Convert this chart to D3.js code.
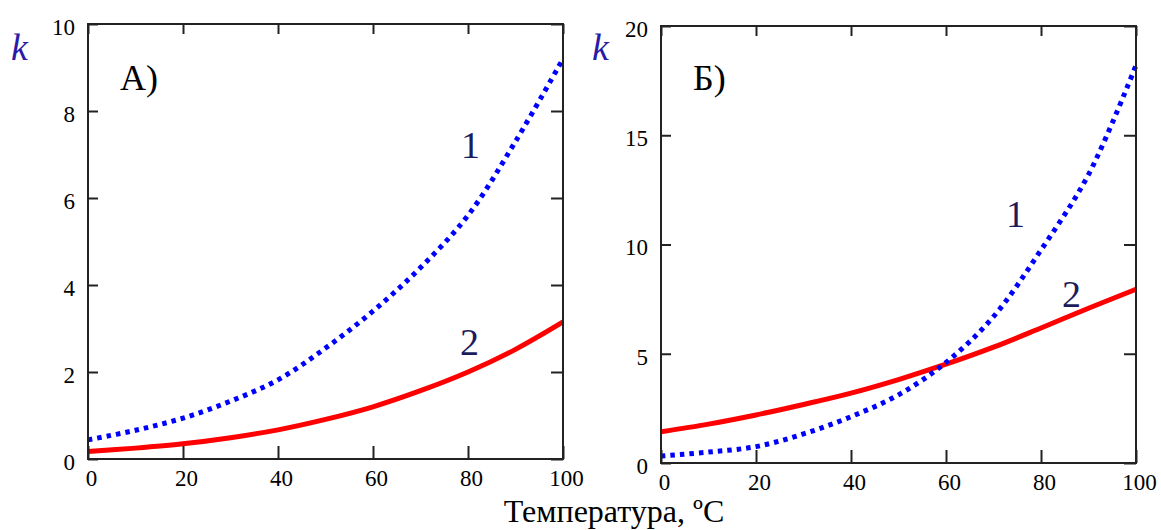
<!DOCTYPE html>
<html>
<head>
<meta charset="utf-8">
<script src="https://cdn.jsdelivr.net/npm/d3@7"></script>
<style>
  html, body { margin: 0; padding: 0; background: #fff; }
  svg { display: block; }
  text { font-family: "Liberation Serif", "Times New Roman", serif; }
</style>
</head>
<body>
<svg id="chart" width="1161" height="530"></svg>
<script>
// ---- data ----
const temps = [0, 10, 20, 30, 40, 50, 60, 70, 80, 90, 100];
// Panel A
const kA1 = [0.44, 0.66, 0.94, 1.33, 1.82, 2.55, 3.40, 4.40, 5.60, 7.30, 9.20];
const kA2 = [0.17, 0.25, 0.35, 0.49, 0.67, 0.91, 1.20, 1.57, 2.00, 2.52, 3.15];
// Panel Б
const kB1 = [0.32, 0.50, 0.75, 1.33, 2.12, 3.12, 4.60, 6.70, 9.75, 13.20, 18.20];
const kB2 = [1.43, 1.78, 2.20, 2.68, 3.20, 3.82, 4.52, 5.30, 6.18, 7.08, 7.95];
const xTicks = [0, 20, 40, 60, 80, 100];
const yTicksA = [0, 2, 4, 6, 8, 10];
const yTicksB = [0, 5, 10, 15, 20];
const xTitle = "Температура, ºC";

const FONT = '"Liberation Serif", "Times New Roman", serif';
const svg = d3.select("#chart");

function panel(cfg) {
  const x = d3.scaleLinear().domain([0, 100]).range([cfg.x0, cfg.x1]);
  const y = d3.scaleLinear().domain([0, cfg.yMax]).range([cfg.y0, cfg.y1]);
  const g = svg.append("g");

  // curves
  const line = d3.line().x(d => x(d[0])).y(d => y(d[1])).curve(d3.curveCatmullRom.alpha(0.5));
  g.append("path")
    .datum(temps.map((t, i) => [t, cfg.s2[i]]))
    .attr("d", line)
    .attr("fill", "none").attr("stroke", "#ff0000").attr("stroke-width", 5);
  g.append("path")
    .datum(temps.map((t, i) => [t, cfg.s1[i]]))
    .attr("d", line)
    .attr("fill", "none").attr("stroke", "#0000ff").attr("stroke-width", 5)
    .attr("stroke-dasharray", "4.5,5");

  // frame
  g.append("rect")
    .attr("x", x(0)).attr("y", y(cfg.yMax))
    .attr("width", x(100) - x(0)).attr("height", y(0) - y(cfg.yMax))
    .attr("fill", "none").attr("stroke", "#222").attr("stroke-width", 2);

  const styleAxis = sel => {
    sel.attr("font-family", FONT).attr("font-size", 23);
    sel.select(".domain").remove();
    sel.selectAll(".tick line").attr("stroke", "#222").attr("stroke-width", 2);
    sel.selectAll("text").attr("fill", "#000")
      .attr("font-family", FONT).attr("font-size", 23);
  };

  // bottom
  g.append("g").attr("transform", `translate(0,${y(0)})`)
    .call(d3.axisBottom(x).tickValues(xTicks).tickSize(-13).tickPadding(11))
    .call(styleAxis)
    .selectAll("text").attr("dx", 3);
  // top
  g.append("g").attr("transform", `translate(0,${y(cfg.yMax)})`)
    .call(d3.axisTop(x).tickValues(xTicks).tickSize(-10).tickFormat(""))
    .call(styleAxis);
  // left
  g.append("g").attr("transform", `translate(${x(0)},0)`)
    .call(d3.axisLeft(y).tickValues(cfg.yTicks).tickSize(-10).tickPadding(13))
    .call(styleAxis)
    .selectAll("text").attr("dy", "0.45em");
  // right
  g.append("g").attr("transform", `translate(${x(100)},0)`)
    .call(d3.axisRight(y).tickValues(cfg.yTicks).tickSize(-12).tickFormat(""))
    .call(styleAxis);

  // k label
  g.append("text").attr("x", cfg.kx).attr("y", 60)
    .attr("fill", "#2a1aa8").style("font-style", "italic").style("font-size", "38px")
    .text("k");
  // panel label
  g.append("text").attr("x", x(0) + 32).attr("y", 90)
    .attr("fill", "#000").style("font-size", "36px").text(cfg.title);
  // curve labels
  g.append("text").attr("x", cfg.l1[0]).attr("y", cfg.l1[1])
    .attr("fill", "#1c1c5c").style("font-size", "38px").text("1");
  g.append("text").attr("x", cfg.l2[0]).attr("y", cfg.l2[1])
    .attr("fill", "#1c1c5c").style("font-size", "38px").text("2");
}

panel({ x0: 88, x1: 563, y0: 459, y1: 24, yMax: 10, yTicks: yTicksA, s1: kA1, s2: kA2,
        kx: 11, title: "А)", l1: [461, 158], l2: [460, 355] });
panel({ x0: 661, x1: 1136, y0: 463, y1: 26, yMax: 20, yTicks: yTicksB, s1: kB1, s2: kB2,
        kx: 592, title: "Б)", l1: [1006, 227], l2: [1062, 307] });

svg.append("text").attr("x", 614).attr("y", 522).attr("text-anchor", "middle")
  .attr("fill", "#000").style("font-size", "32px").text(xTitle);
</script>
</body>
</html>
